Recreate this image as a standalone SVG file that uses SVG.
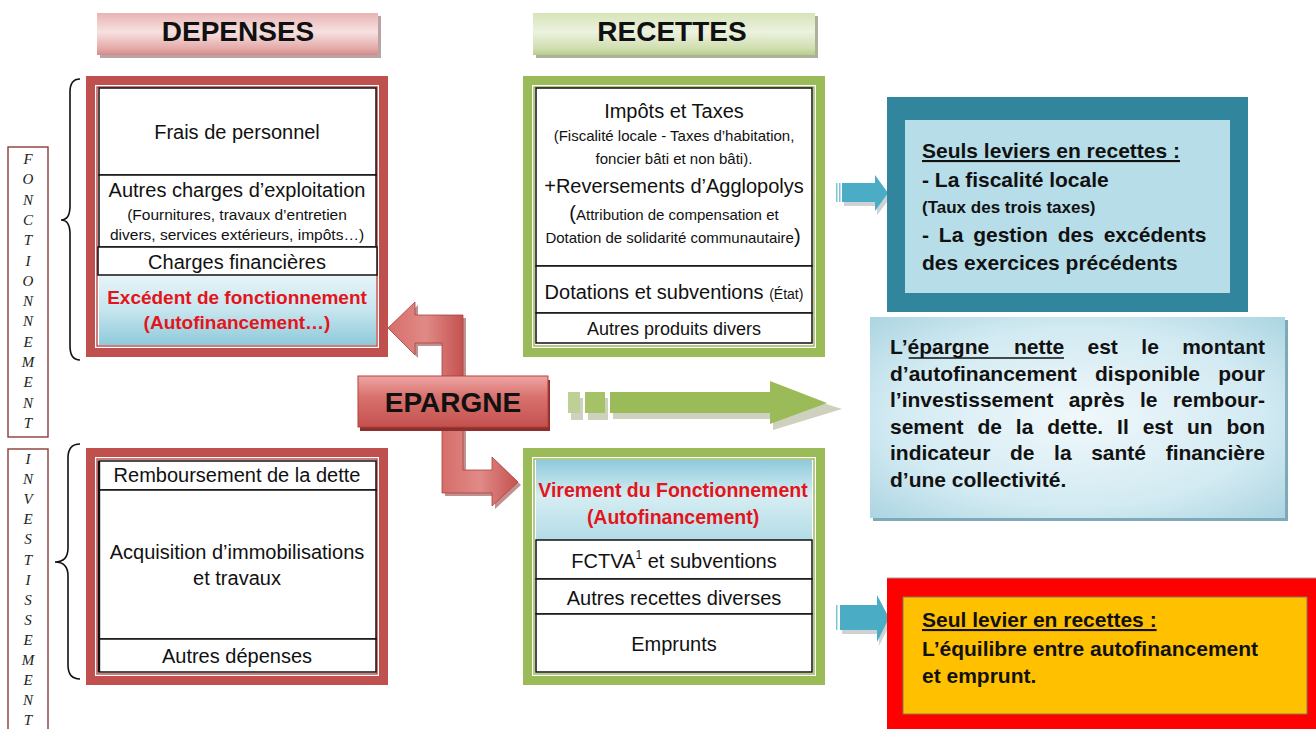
<svg xmlns="http://www.w3.org/2000/svg" width="1316" height="729" viewBox="0 0 1316 729">
<defs>
<linearGradient id="gPink" x1="0" y1="0" x2="0" y2="1">
<stop offset="0" stop-color="#e8b4b3"/><stop offset="0.45" stop-color="#f6e1e1"/><stop offset="0.85" stop-color="#e4a9a7"/><stop offset="1" stop-color="#d28b89"/>
</linearGradient>
<linearGradient id="gGreenHdr" x1="0" y1="0" x2="0" y2="1">
<stop offset="0" stop-color="#d6e4b8"/><stop offset="0.45" stop-color="#ecf2df"/><stop offset="0.85" stop-color="#cfdeae"/><stop offset="1" stop-color="#b9cd8c"/>
</linearGradient>
<linearGradient id="gRed" x1="0" y1="0" x2="0" y2="1">
<stop offset="0" stop-color="#eda6a4"/><stop offset="0.4" stop-color="#d9726f"/><stop offset="1" stop-color="#c3514e"/>
</linearGradient>
<linearGradient id="gRedArrow" x1="0" y1="0" x2="1" y2="0">
<stop offset="0" stop-color="#d66e6b"/><stop offset="0.5" stop-color="#e08a87"/><stop offset="1" stop-color="#c4524f"/>
</linearGradient>
<linearGradient id="gBlue1" x1="0" y1="0" x2="0" y2="1">
<stop offset="0" stop-color="#e6f4f8"/><stop offset="0.5" stop-color="#c6e5ee"/><stop offset="1" stop-color="#8ecada"/>
</linearGradient>
<linearGradient id="gBlue2" x1="0" y1="0" x2="0" y2="1">
<stop offset="0" stop-color="#8fcadb"/><stop offset="0.45" stop-color="#d6edf3"/><stop offset="1" stop-color="#b3dce7"/>
</linearGradient>
<radialGradient id="gNette" cx="0.5" cy="0.5" r="0.75">
<stop offset="0" stop-color="#f0f8fb"/><stop offset="0.6" stop-color="#d2eaf2"/><stop offset="1" stop-color="#a4d1df"/>
</radialGradient>
<style>
.t{font-family:"Liberation Sans",Arial,sans-serif;fill:#111}
.c{text-anchor:middle}
.b{font-weight:bold}
.m{font-size:20px}
.s{font-size:15.5px}
.s2{font-size:15px}
.r{font-size:21px;font-weight:bold}
.h{font-size:28px;font-weight:bold}
.red{fill:#e3141b}
.v{font-family:"Liberation Serif","Times New Roman",serif;font-style:italic;font-size:15px;text-anchor:middle;fill:#222}
.cell{fill:#fff;stroke:#111;stroke-width:1.5}
.rb{fill:#c0504d}
.gb{fill:#9bbb59}
.wh{fill:#fff}
.brace{fill:none;stroke:#111;stroke-width:1.6}
.vbox{fill:#fff;stroke:#8a3b39;stroke-width:1.4}
.teal{fill:#4bacc6}
.shadow{fill:#cfd2d4}
.ul{stroke:#111;stroke-width:1.6}
</style>
</defs>
<rect width="1316" height="729" fill="#fff"/>

<!-- side labels -->
<g id="label-fonctionnement">
<rect class="vbox" x="8" y="147" width="40" height="290"/>
<text class="v"><tspan x="28" y="164">F</tspan><tspan x="28" dy="20.3">O</tspan><tspan x="28" dy="20.3">N</tspan><tspan x="28" dy="20.3">C</tspan><tspan x="28" dy="20.3">T</tspan><tspan x="28" dy="20.3">I</tspan><tspan x="28" dy="20.3">O</tspan><tspan x="28" dy="20.3">N</tspan><tspan x="28" dy="20.3">N</tspan><tspan x="28" dy="20.3">E</tspan><tspan x="28" dy="20.3">M</tspan><tspan x="28" dy="20.3">E</tspan><tspan x="28" dy="20.3">N</tspan><tspan x="28" dy="20.3">T</tspan></text>
<path class="brace" d="M80,79 Q70,79 70,92 L70,206 Q70,220 61,220 Q70,220 70,234 L70,346 Q70,360 80,360"/>
</g>
<g id="label-investissement">
<rect class="vbox" x="8" y="449" width="40" height="300"/>
<text class="v"><tspan x="28" y="464">I</tspan><tspan x="28" dy="20.1">N</tspan><tspan x="28" dy="20.1">V</tspan><tspan x="28" dy="20.1">E</tspan><tspan x="28" dy="20.1">S</tspan><tspan x="28" dy="20.1">T</tspan><tspan x="28" dy="20.1">I</tspan><tspan x="28" dy="20.1">S</tspan><tspan x="28" dy="20.1">S</tspan><tspan x="28" dy="20.1">E</tspan><tspan x="28" dy="20.1">M</tspan><tspan x="28" dy="20.1">E</tspan><tspan x="28" dy="20.1">N</tspan><tspan x="28" dy="20.1">T</tspan></text>
<path class="brace" d="M80,444 Q68,444 68,458 L68,548 Q68,562 55,562 Q68,562 68,576 L68,665 Q68,679 80,679"/>
</g>

<!-- headers -->
<g id="header-depenses">
<rect x="100" y="16" width="281" height="42" fill="#b9a3a3"/>
<rect x="97" y="13" width="281" height="42" fill="url(#gPink)"/>
<text class="t h c" x="238" y="41">DEPENSES</text>
</g>
<g id="header-recettes">
<rect x="536" y="16" width="282" height="42" fill="#aab29a"/>
<rect x="533" y="13" width="282" height="42" fill="url(#gGreenHdr)"/>
<text class="t h c" x="672" y="41">RECETTES</text>
</g>

<!-- connectors -->
<g id="connectors">
<polygon points="445,384 445,346 418,346 418,358 391,331 418,305 418,318 466,318 466,384" fill="#8f3432" opacity="0.55"/>
<polygon points="442,380 442,343 415,343 415,355 388,328 415,302 415,315 463,315 463,380" fill="url(#gRedArrow)" stroke="#a94340" stroke-width="0.8"/>
<polygon points="445,424 445,496 495,496 495,509 521,485 495,460 495,473 466,473 466,424" fill="#8f3432" opacity="0.55"/>
<polygon points="442,420 442,493 492,493 492,506 518,482 492,457 492,470 463,470 463,420" fill="url(#gRedArrow)" stroke="#a94340" stroke-width="0.8"/>
<!-- green arrow -->
<rect x="571" y="398" width="12" height="22" fill="#cdd1bd"/>
<rect x="588" y="398" width="20" height="22" fill="#cdd1bd"/>
<polygon points="613,398 773,398 773,387 842,409 773,430 773,419 613,419" fill="#cdd1bd"/>
<rect x="568" y="392" width="12" height="21" fill="#bfd096"/>
<rect x="585" y="392" width="20" height="21" fill="#a6c266"/>
<polygon points="610,392 770,392 770,381 827,403 770,424 770,413 610,413" fill="#9bbb59"/>
<!-- teal arrows -->
<g>
<polygon points="844,187 877,187 877,179 891,197 877,215 877,206 844,206" class="shadow"/>
<rect x="836" y="183" width="1.5" height="19" fill="#7fc3d6"/>
<rect x="839" y="183" width="1.5" height="19" fill="#7fc3d6"/>
<polygon points="842,183 875,183 875,175 888,193 875,211 875,202 842,202" class="teal"/>
</g>
<g>
<polygon points="842,609 879,609 879,599 891,622 879,646 879,634 842,634" class="shadow"/>
<rect x="836" y="605" width="1.5" height="25" fill="#7fc3d6"/>
<polygon points="840,605 877,605 877,595 889,618 877,642 877,630 840,630" class="teal"/>
</g>
</g>

<!-- Depenses fonctionnement -->
<g id="dep-fonct">
<rect class="rb" x="86" y="76" width="302" height="281"/>
<rect class="wh" x="95" y="85" width="284" height="263"/>
<rect x="97" y="87" width="280" height="259" fill="none" stroke="#c0504d" stroke-width="1.5"/>
<rect class="cell" x="99" y="88" width="277" height="87"/>
<rect class="cell" x="99" y="175" width="277" height="72"/>
<rect x="99" y="276" width="277" height="69" fill="url(#gBlue1)"/>
<rect class="cell" x="98" y="247" width="279" height="28" stroke-width="2.4"/>
<text class="t m c" x="237" y="139">Frais de personnel</text>
<text class="t m c" x="237" y="197">Autres charges d’exploitation</text>
<text class="t s c" x="237" y="220">(Fournitures, travaux d’entretien</text>
<text class="t s c" x="237" y="240">divers, services extérieurs, impôts…)</text>
<text class="t m c" x="237" y="269">Charges financières</text>
<text class="t b red c" x="237" y="304" style="font-size:19px">Excédent de fonctionnement</text>
<text class="t b red c" x="237" y="329" style="font-size:19px">(Autofinancement…)</text>
</g>

<!-- Depenses investissement -->
<g id="dep-invest">
<rect class="rb" x="86" y="448" width="302" height="237"/>
<rect class="wh" x="95" y="457" width="284" height="219"/>
<rect x="97" y="459" width="280" height="215" fill="none" stroke="#c0504d" stroke-width="1.5"/>
<rect class="cell" x="99" y="461" width="277" height="29"/>
<rect class="cell" x="99" y="490" width="277" height="149"/>
<rect class="cell" x="99" y="639" width="277" height="33"/>
<line x1="99" y1="461" x2="99" y2="672" stroke="#111" stroke-width="2.4"/>
<text class="t m c" x="237" y="482">Remboursement de la dette</text>
<text class="t m c" x="237" y="559">Acquisition d’immobilisations</text>
<text class="t m c" x="237" y="585">et travaux</text>
<text class="t m c" x="237" y="663">Autres dépenses</text>
</g>

<!-- Recettes fonctionnement -->
<g id="rec-fonct">
<rect class="gb" x="523" y="76" width="302" height="281"/>
<rect class="wh" x="532" y="85" width="284" height="263"/>
<rect x="534" y="87" width="280" height="259" fill="none" stroke="#9bbb59" stroke-width="1.5"/>
<rect class="cell" x="536" y="88" width="276" height="178"/>
<rect class="cell" x="536" y="266" width="276" height="47"/>
<rect class="cell" x="536" y="313" width="276" height="30"/>
<text class="t m c" x="674" y="118">Impôts et Taxes</text>
<text class="t s2 c" x="674" y="141">(Fiscalité locale - Taxes d’habitation,</text>
<text class="t s2 c" x="674" y="164">foncier bâti et non bâti).</text>
<text class="t m c" x="674" y="193">+Reversements d’Agglopolys</text>
<text class="t s2 c" x="674" y="220"><tspan style="font-size:20px">(</tspan>Attribution de compensation et</text>
<text class="t s2 c" x="673" y="243">Dotation de solidarité communautaire<tspan style="font-size:20px">)</tspan></text>
<text class="t m c" x="674" y="299">Dotations et subventions <tspan style="font-size:14px">(État)</tspan></text>
<text class="t c" x="674" y="335" style="font-size:18px">Autres produits divers</text>
</g>

<!-- Recettes investissement -->
<g id="rec-invest">
<rect class="gb" x="523" y="448" width="302" height="237"/>
<rect class="wh" x="532" y="457" width="284" height="219"/>
<rect x="534" y="459" width="280" height="215" fill="none" stroke="#9bbb59" stroke-width="1.5"/>
<rect x="536" y="460" width="276" height="80" fill="url(#gBlue2)"/>
<rect class="cell" x="536" y="540" width="276" height="39"/>
<rect class="cell" x="536" y="579" width="276" height="35"/>
<rect class="cell" x="536" y="614" width="276" height="58"/>
<text class="t b red c" x="673" y="497" style="font-size:19.5px">Virement du Fonctionnement</text>
<text class="t b red c" x="673" y="524" style="font-size:19.5px">(Autofinancement)</text>
<text class="t m c" x="674" y="568">FCTVA<tspan style="font-size:12px" dy="-9">1</tspan><tspan dy="9"> et subventions</tspan></text>
<text class="t m c" x="674" y="605">Autres recettes diverses</text>
<text class="t m c" x="674" y="651">Emprunts</text>
</g>

<!-- EPARGNE -->
<g id="epargne">
<rect x="360" y="380" width="190" height="51" fill="#8c2f2d"/>
<rect x="358" y="376" width="190" height="51" fill="url(#gRed)" stroke="#b5403d" stroke-width="1"/>
<text class="t h c" x="453" y="412">EPARGNE</text>
</g>

<!-- Leviers fonctionnement -->
<g id="leviers-fonct">
<rect x="887" y="97" width="361" height="215" fill="#31859c"/>
<rect x="905" y="120" width="325" height="173" fill="#b7dee8"/>
<text class="t r" x="922" y="158" text-decoration="underline">Seuls leviers en recettes :</text>
<text class="t r" x="922" y="187">- La fiscalité locale</text>
<text class="t b" x="922" y="213" style="font-size:17px">(Taux des trois taxes)</text>
<text class="t r" x="922" y="242" style="word-spacing:4px">- La gestion des excédents</text>
<text class="t r" x="922" y="270">des exercices précédents</text>
</g>

<!-- Epargne nette -->
<g id="epargne-nette">
<rect x="873" y="320" width="415" height="201" fill="#7ea9b8"/>
<rect x="870" y="317" width="415" height="201" fill="url(#gNette)"/>
<text class="t r" y="354"><tspan x="890">L’épargne</tspan><tspan x="1013.9">nette</tspan><tspan x="1087.5">est</tspan><tspan x="1141.3">le</tspan><tspan x="1182.2">montant</tspan></text>
<line class="ul" x1="908.7" y1="358" x2="1064" y2="358"/>
<text class="t r" y="381"><tspan x="890">d’autofinancement</tspan><tspan x="1095">disponible</tspan><tspan x="1218.3">pour</tspan></text>
<text class="t r" y="407"><tspan x="890">l’investissement</tspan><tspan x="1068.7">après</tspan><tspan x="1140">le</tspan><tspan x="1172.8">rembour-</tspan></text>
<text class="t r" y="434"><tspan x="890">sement</tspan><tspan x="977.4">de</tspan><tspan x="1015.8">la</tspan><tspan x="1047.2">dette.</tspan><tspan x="1117.1">Il</tspan><tspan x="1142.7">est</tspan><tspan x="1186.9">un</tspan><tspan x="1226.5">bon</tspan></text>
<text class="t r" y="460"><tspan x="890">indicateur</tspan><tspan x="1010">de</tspan><tspan x="1054.1">la</tspan><tspan x="1091.2">santé</tspan><tspan x="1165.7">financière</tspan></text>
<text class="t r" x="890" y="487">d’une collectivité.</text>
</g>

<!-- Levier investissement -->
<g id="levier-invest">
<rect x="887" y="578" width="429" height="151" fill="#ff0000"/>
<line x1="887" y1="578" x2="1316" y2="578" stroke="#9a9a9a" stroke-width="1"/>
<rect x="903" y="597" width="404" height="117" fill="#ffc000" stroke="#8a7a50" stroke-width="1"/>
<text class="t r" x="922" y="627" text-decoration="underline">Seul levier en recettes :</text>
<text class="t r" x="922" y="656">L’équilibre entre autofinancement</text>
<text class="t r" x="922" y="683">et emprunt.</text>
</g>
</svg>
